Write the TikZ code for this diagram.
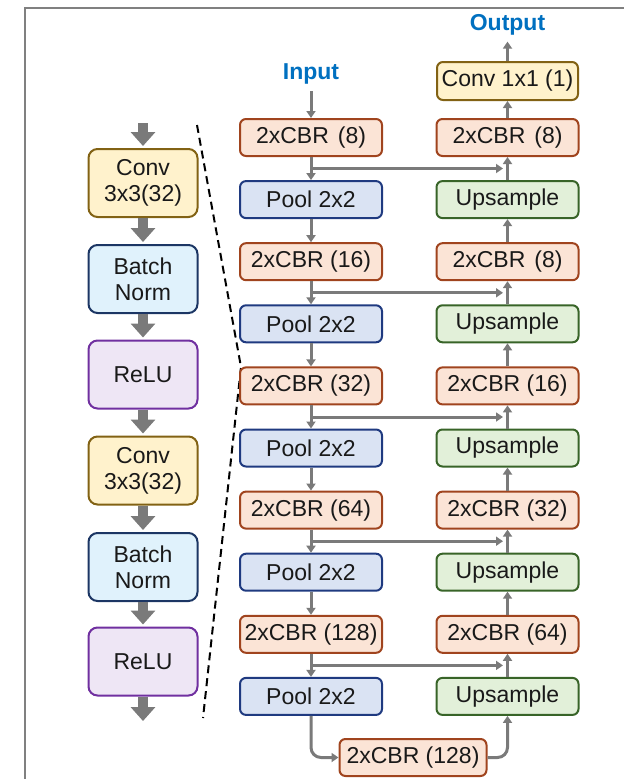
\documentclass[tikz,border=0pt]{standalone}
\usepackage{fontspec}
\setmainfont{Liberation Sans}
\usetikzlibrary{arrows.meta}
\definecolor{cbrf}{RGB}{251,228,214}
\definecolor{cbrd}{RGB}{160,68,30}
\definecolor{poolf}{RGB}{218,227,243}
\definecolor{poold}{RGB}{31,58,128}
\definecolor{upf}{RGB}{226,240,217}
\definecolor{upd}{RGB}{56,100,40}
\definecolor{convf}{RGB}{255,242,204}
\definecolor{convd}{RGB}{130,98,20}
\definecolor{bnf}{RGB}{224,242,252}
\definecolor{bnd}{RGB}{28,54,100}
\definecolor{reluf}{RGB}{238,230,245}
\definecolor{relud}{RGB}{112,48,160}
\definecolor{agray}{RGB}{122,122,122}
\definecolor{fgray}{RGB}{128,128,128}
\definecolor{ioblue}{RGB}{0,112,192}
\begin{document}
\begin{tikzpicture}[x=1pt,y=-1pt,
  box/.style={draw, line width=2pt, rounded corners=6pt, minimum width=142pt,
    minimum height=37pt, inner sep=0pt, font=\fontsize{23}{27}\selectfont, text=black!90},
  cbr/.style={box, draw=cbrd, fill=cbrf},
  pool/.style={box, draw=poold, fill=poolf},
  ups/.style={box, draw=upd, fill=upf},
  cvy/.style={box, draw=convd, fill=convf},
  lbox/.style={draw, line width=2pt, rounded corners=9pt, minimum width=109pt,
    minimum height=68pt, inner sep=0pt, align=center,
    font=\fontsize{23}{26}\selectfont, text=black!90},
  lconv/.style={lbox, draw=convd, fill=convf},
  lbn/.style={lbox, draw=bnd, fill=bnf},
  lrelu/.style={lbox, draw=relud, fill=reluf},
  fat/.style={draw=agray, line width=10pt, -{Triangle[width=24pt,length=14pt]}},
  conn/.style={draw=agray, line width=3pt, -{Triangle[width=9pt,length=7pt]}},
  iotext/.style={text=ioblue, font=\fontsize{23}{27}\selectfont\bfseries, inner sep=0pt}
]
\useasboundingbox (0,0) rectangle (624,779);
% frame
\draw[fgray, line width=2.5pt] (25,779) -- (25,8) -- (624,8);

% left detail column
\node[lconv] (a1) at (143,183) {Conv\\3x3(32)};
\node[lbn] (a2) at (143,279) {Batch\\Norm};
\node[lrelu] (a3) at (143,374.5) {ReLU};
\node[lconv] (a4) at (143,470.5) {Conv\\3x3(32)};
\node[lbn] (a5) at (143,567) {Batch\\Norm};
\node[lrelu] (a6) at (143,661.5) {ReLU};
\coordinate (atop) at (143,123);
\coordinate (abot) at (143,721);
\draw[fat, shorten >=2pt] (atop) -- (a1);
\draw[fat, shorten >=2pt] (a1) -- (a2);
\draw[fat, shorten >=2pt] (a2) -- (a3);
\draw[fat, shorten >=2pt] (a3) -- (a4);
\draw[fat, shorten >=2pt] (a4) -- (a5);
\draw[fat, shorten >=2pt] (a5) -- (a6);
\draw[fat] (a6) -- (abot);

% dashed zoom line
\coordinate (d1) at (197,125);
\coordinate (d2) at (241,367);
\coordinate (d3) at (203,718);
\draw[black, line width=2pt, dash pattern=on 8pt off 5pt] (d1) -- (d2) -- (d3);

% encoder
\node[cbr]  (l0) at (311,137.5) {2xCBR\hspace{9pt}(8)};
\node[pool] (l1) at (311,199.6) {Pool 2x2};
\node[cbr]  (l2) at (311,261.7) {2xCBR (16)};
\node[pool] (l3) at (311,323.8) {Pool 2x2};
\node[cbr]  (l4) at (311,385.9) {2xCBR (32)};
\node[pool] (l5) at (311,448.0) {Pool 2x2};
\node[cbr]  (l6) at (311,510.1) {2xCBR (64)};
\node[pool] (l7) at (311,572.2) {Pool 2x2};
\node[cbr]  (l8) at (311,634.3) {2xCBR (128)};
\node[pool] (l9) at (311,696.4) {Pool 2x2};

% decoder
\node[cbr] (r0) at (507.5,137.5) {2xCBR\hspace{9pt}(8)};
\node[ups] (r1) at (507.5,199.6) {Upsample};
\node[cbr] (r2) at (507.5,261.7) {2xCBR\hspace{9pt}(8)};
\node[ups] (r3) at (507.5,323.8) {Upsample};
\node[cbr] (r4) at (507.5,385.9) {2xCBR (16)};
\node[ups] (r5) at (507.5,448.0) {Upsample};
\node[cbr] (r6) at (507.5,510.1) {2xCBR (32)};
\node[ups] (r7) at (507.5,572.2) {Upsample};
\node[cbr] (r8) at (507.5,634.3) {2xCBR (64)};
\node[ups] (r9) at (507.5,696.4) {Upsample};

% bottleneck
\node[cbr, minimum width=147pt] (bn) at (413,757.5) {2xCBR (128)};

% output conv
\node[cvy, minimum width=141pt, minimum height=38pt] (c1) at (507.5,81) {Conv 1x1 (1)};

% input/output labels
\node[iotext] (in) at (311,74) {Input};
\node[iotext] (out) at (507.5,25) {Output};
\draw[conn, shorten <=7pt] (in) -- (l0);
\draw[conn, shorten >=6pt] (c1) -- (out);

% encoder vertical arrows
\draw[conn] (l0) -- (l1);
\draw[conn] (l1) -- (l2);
\draw[conn] (l2) -- (l3);
\draw[conn] (l3) -- (l4);
\draw[conn] (l4) -- (l5);
\draw[conn] (l5) -- (l6);
\draw[conn] (l6) -- (l7);
\draw[conn] (l7) -- (l8);
\draw[conn] (l8) -- (l9);

% decoder vertical arrows
\draw[conn] (r0) -- (c1);
\draw[conn] (r1) -- (r0);
\draw[conn] (r2) -- (r1);
\draw[conn] (r3) -- (r2);
\draw[conn] (r4) -- (r3);
\draw[conn] (r5) -- (r4);
\draw[conn] (r6) -- (r5);
\draw[conn] (r7) -- (r6);
\draw[conn] (r8) -- (r7);
\draw[conn] (r9) -- (r8);

% skip connections
\foreach \i/\y in {0/168.5, 2/292.8, 4/417.0, 6/541.2, 8/665.4} {
  \coordinate (sa\i) at (311,\y);
  \coordinate (sb\i) at (503,\y);
  \draw[conn] (sa\i) -- (sb\i);
}

% bottleneck connections
\draw[conn, rounded corners=10pt] (l9.south) |- (bn.west);
\draw[conn, rounded corners=10pt] (bn.east) -| (r9.south);
\end{tikzpicture}
\end{document}
